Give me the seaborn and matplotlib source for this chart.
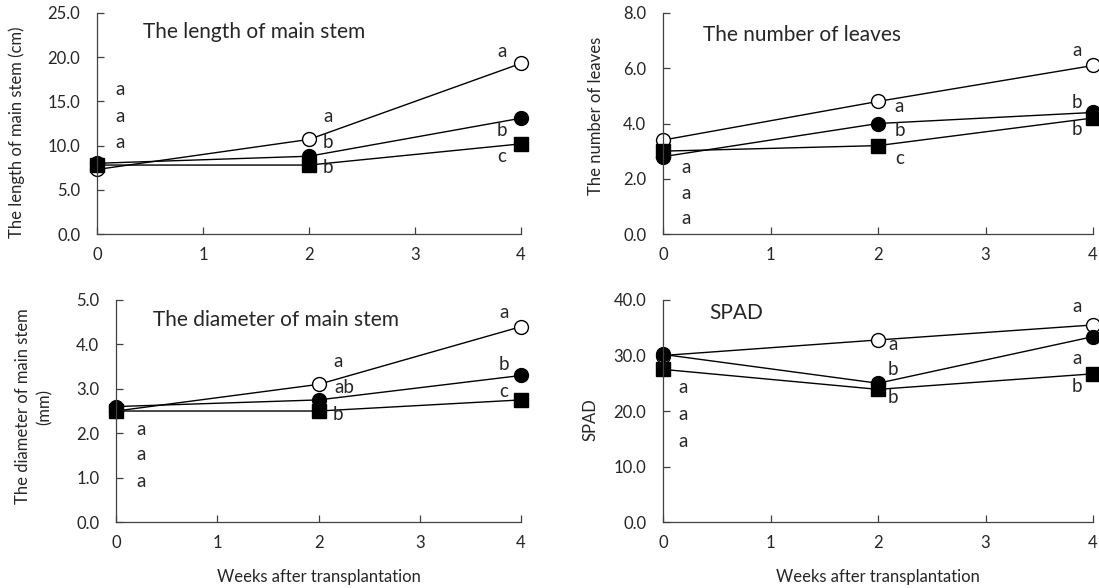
"""
Growth of seedlings after transplantation: four panels with letters of significance.
"""

from typing import Final

import matplotlib.pyplot as plt
import pandas as pd
import seaborn as sns

# We set the seaborn style, then the font list (set_style resets it)
sns.set_style('ticks')
plt.rcParams['font.family'] = ['Lato', 'DejaVu Sans']

TEXT_COLOR: Final[str] = '#262626'

# Weeks after transplantation
WEEKS: Final[list] = [0, 2, 4]

# The length of main stem (cm)
LENGTH_OPEN: Final[list] = [7.3, 10.7, 19.3]
LENGTH_CIRCLE: Final[list] = [8.0, 8.8, 13.1]
LENGTH_SQUARE: Final[list] = [7.8, 7.8, 10.2]

# The number of leaves
LEAVES_OPEN: Final[list] = [3.4, 4.8, 6.1]
LEAVES_CIRCLE: Final[list] = [2.8, 4.0, 4.4]
LEAVES_SQUARE: Final[list] = [3.0, 3.2, 4.2]

# The diameter of main stem (mm)
DIAMETER_OPEN: Final[list] = [2.5, 3.1, 4.4]
DIAMETER_CIRCLE: Final[list] = [2.6, 2.75, 3.3]
DIAMETER_SQUARE: Final[list] = [2.5, 2.5, 2.75]

# SPAD
SPAD_OPEN: Final[list] = [30.0, 32.8, 35.5]
SPAD_CIRCLE: Final[list] = [30.2, 25.0, 33.4]
SPAD_SQUARE: Final[list] = [27.5, 23.9, 26.7]

# Letters of significance for each week (top to bottom)
LENGTH_LETTERS: Final[list] = [['a', 'a', 'a'], ['a', 'b', 'b'], ['a', 'b', 'c']]
LEAVES_LETTERS: Final[list] = [['a', 'a', 'a'], ['a', 'b', 'c'], ['a', 'b', 'b']]
DIAMETER_LETTERS: Final[list] = [['a', 'a', 'a'], ['a', 'ab', 'b'], ['a', 'b', 'c']]
SPAD_LETTERS: Final[list] = [['a', 'a', 'a'], ['a', 'b', 'b'], ['a', 'a', 'b']]


def build_frame(open_values: list, circle_values: list, square_values: list) -> pd.DataFrame:
    """
    Builds a long table of the three series.
    """

    rows = []
    for name, values in (('open', open_values), ('circle', circle_values), ('square', square_values)):
        for week, value in zip(WEEKS, values):
            rows.append({'week': week, 'value': value, 'series': name})
    return pd.DataFrame(rows)


def create_panel(axis: plt.Axes, frame: pd.DataFrame, title: str, title_pos: tuple, ylabel: str,
                 ymax: float, ystep: float, letters: list, letter_pos: list, label_x: float,
                 label_y: float, xlabel: bool) -> None:
    """
    Draws one panel.
    """

    styles = {
        'open': dict(marker='o', markerfacecolor='white', markersize=10),
        'circle': dict(marker='o', markerfacecolor='black', markersize=10),
        'square': dict(marker='s', markerfacecolor='black', markersize=9.5),
    }
    for name, style in styles.items():
        sns.lineplot(data=frame[frame['series'] == name], x='week', y='value', ax=axis,
                     color='black', linewidth=1.0, markeredgecolor='black',
                     markeredgewidth=1.0, clip_on=False, legend=False, **style)

    # Letters of significance
    for week_letters, positions in zip(letters, letter_pos):
        for letter, (x, y) in zip(week_letters, positions):
            axis.text(x, y, letter, fontsize=13.5, color=TEXT_COLOR, ha='center', va='center')

    # Title inside the panel
    axis.text(title_pos[0], title_pos[1], title, fontsize=15, color=TEXT_COLOR, va='center')

    # Axes
    axis.set_xlim(0, 4)
    axis.set_ylim(0, ymax)
    axis.set_xticks([0, 1, 2, 3, 4])
    ticks = [i * ystep for i in range(int(round(ymax / ystep)) + 1)]
    axis.set_yticks(ticks)
    axis.set_yticklabels([f'{t:.1f}' for t in ticks])
    axis.tick_params(axis='both', direction='in', length=5, width=0.9, colors='#404040',
                     labelcolor=TEXT_COLOR, labelsize=12)
    axis.tick_params(axis='x', pad=9)
    axis.tick_params(axis='y', pad=12)
    sns.despine(ax=axis)
    for side in ('left', 'bottom'):
        axis.spines[side].set_color('#404040')
        axis.spines[side].set_linewidth(0.9)

    axis.set_ylabel(ylabel, fontsize=12, color=TEXT_COLOR, linespacing=1.4)
    axis.yaxis.set_label_coords(label_x, label_y)
    if xlabel:
        axis.set_xlabel('Weeks after transplantation', fontsize=12, color=TEXT_COLOR, labelpad=13)
    else:
        axis.set_xlabel('')


# We create the figure and the four axes
figure = plt.figure(figsize=(10.99, 5.88), dpi=100)
axis_length = figure.add_axes([0.0883, 0.602, 0.3858, 0.3759])
axis_leaves = figure.add_axes([0.6033, 0.602, 0.3913, 0.3759])
axis_diameter = figure.add_axes([0.1056, 0.1122, 0.3685, 0.3776])
axis_spad = figure.add_axes([0.6033, 0.1122, 0.3913, 0.3776])

create_panel(axis_length, build_frame(LENGTH_OPEN, LENGTH_CIRCLE, LENGTH_SQUARE),
             'The length of main stem', (0.43, 22.9), 'The length of main stem (cm)', 25.0, 5.0,
             LENGTH_LETTERS,
             [[(0.22, 16.3), (0.22, 13.3), (0.22, 10.4)],
              [(2.18, 13.3), (2.18, 10.4), (2.18, 7.5)],
              [(3.82, 20.6), (3.82, 11.7), (3.82, 8.8)]],
             -0.170, 0.46, False)

create_panel(axis_leaves, build_frame(LEAVES_OPEN, LEAVES_CIRCLE, LEAVES_SQUARE),
             'The number of leaves', (0.37, 7.2), 'The number of leaves', 8.0, 2.0,
             LEAVES_LETTERS,
             [[(0.21, 2.42), (0.21, 1.48), (0.21, 0.55)],
              [(2.2, 4.63), (2.2, 3.73), (2.2, 2.75)],
              [(3.85, 6.64), (3.85, 4.75), (3.85, 3.78)]],
             -0.137, 0.534, False)

create_panel(axis_diameter, build_frame(DIAMETER_OPEN, DIAMETER_CIRCLE, DIAMETER_SQUARE),
             'The diameter of main stem', (0.36, 4.55), 'The diameter of main stem\n(mm)', 5.0, 1.0,
             DIAMETER_LETTERS,
             [[(0.25, 2.09), (0.25, 1.51), (0.25, 0.92)],
              [(2.19, 3.62), (2.25, 3.02), (2.19, 2.42)],
              [(3.83, 4.71), (3.83, 3.54), (3.83, 2.94)]],
             -0.157, 0.52, True)

create_panel(axis_spad, build_frame(SPAD_OPEN, SPAD_CIRCLE, SPAD_SQUARE),
             'SPAD', (0.43, 37.6), 'SPAD', 40.0, 10.0,
             SPAD_LETTERS,
             [[(0.19, 24.2), (0.19, 19.4), (0.19, 14.5)],
              [(2.14, 32.0), (2.14, 27.4), (2.14, 22.5)],
              [(3.85, 38.8), (3.85, 29.4), (3.85, 24.5)]],
             -0.149, 0.46, True)

# We save the figure
figure.savefig('out.png', dpi=100)
